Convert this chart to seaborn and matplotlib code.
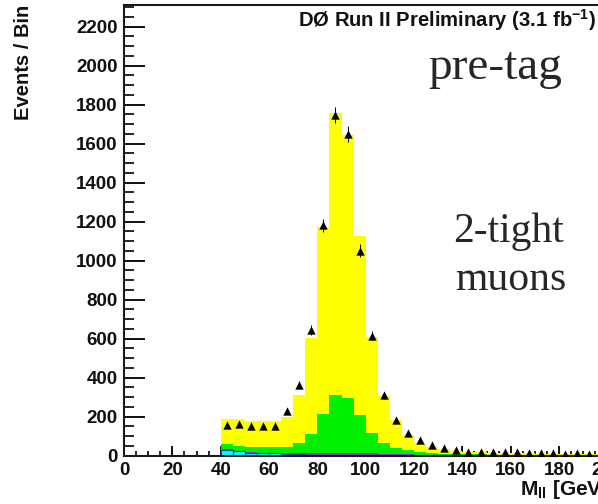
import numpy as np
import pandas as pd
import matplotlib
matplotlib.use("Agg")
import matplotlib.pyplot as plt
import seaborn as sns
from matplotlib.ticker import MultipleLocator

# ---------------- data (5 GeV bins, lower edges 40..195) ----------------
bin_low = list(range(40, 200, 5))
data_counts = [156, 160, 153, 153, 153, 230, 362, 644, 1180, 1745,
               1650, 1050, 615, 308, 182, 117, 78, 54, 37, 30,
               20, 20, 20, 18, 16, 12, 12, 12, 10, 12, 10, 10]
z_light = [126, 134, 137, 137, 136, 154, 245, 489, 958, 1448,
           1348, 917, 493, 242, 140, 78, 47, 33, 23, 18,
           14, 11, 10, 9, 7, 7, 6, 5, 5, 4, 4, 3]
z_heavy = [27, 26, 24, 27, 28, 33, 52, 101, 200, 296,
           282, 197, 104, 53, 33, 21, 13, 8, 5, 3,
           2, 2, 2, 2, 2, 2, 2, 2, 2, 2, 2, 2]
diboson = [3, 3, 3, 3, 3, 4, 5, 6, 8, 10,
           10, 9, 7, 5, 4, 3, 3, 2, 2, 2,
           2, 2, 2, 2, 1, 1, 1, 1, 1, 1, 1, 1]
multijet = [29, 22, 15, 12, 11, 8, 6, 5, 4, 4,
            4, 4, 4, 4, 3, 3, 2, 2, 2, 2,
            2, 2, 1, 1, 1, 1, 1, 1, 1, 1, 1, 1]

process_names = ["Z+lf", "Z+hf", "Diboson", "Multijet"]
process_colors = ["#FFFF00", "#00EE00", "#9A32E0", "#00FFFF"]

edges = list(range(40, 205, 5))
centers = np.array(bin_low) + 2.5

df = pd.concat([
    pd.DataFrame({"mll": centers, "events": vals, "process": name})
    for name, vals in zip(process_names, [z_light, z_heavy, diboson, multijet])
], ignore_index=True)

# ---------------- style ----------------
sns.set_style("ticks")
plt.rcParams["font.family"] = ["Liberation Sans", "DejaVu Sans"]
plt.rcParams["font.weight"] = "bold"
plt.rcParams["mathtext.fontset"] = "custom"
plt.rcParams["mathtext.rm"] = "Liberation Sans:bold"
plt.rcParams["mathtext.bf"] = "Liberation Sans:bold"

W, H = 598, 504
fig = plt.figure(figsize=(W / 100, H / 100), dpi=100)

x0_px, y0_px, top_px = 124, 455.5, 5
xmax = 250.0
px_per_unit = 2.417
ax = fig.add_axes([x0_px / W, (H - y0_px) / H,
                   xmax * px_per_unit / W, (y0_px - top_px) / H])

sns.histplot(data=df, x="mll", weights="events", hue="process",
             hue_order=process_names, palette=dict(zip(process_names, process_colors)),
             multiple="stack", bins=edges, element="bars", linewidth=0,
             alpha=1, legend=False, ax=ax)
# blue outline of bottom (multijet) component
sns.histplot(x=centers, weights=multijet, bins=edges, element="bars", fill=False,
             color="#2a3fd0", linewidth=0.8, ax=ax)

ax.errorbar(centers, data_counts, yerr=np.sqrt(np.array(data_counts)), fmt="none",
            ecolor="k", elinewidth=0.7, capsize=0, zorder=5)
sns.scatterplot(x=centers, y=data_counts, marker="^", color="k", s=36,
                linewidth=0, zorder=6, ax=ax, legend=False)

ax.set_xlim(0, xmax)
ax.set_ylim(0, (y0_px - top_px) / 0.195)
ax.set_xlabel("")
ax.set_ylabel("")

ax.xaxis.set_major_locator(MultipleLocator(20))
ax.xaxis.set_minor_locator(MultipleLocator(5))
ax.yaxis.set_major_locator(MultipleLocator(200))
ax.yaxis.set_minor_locator(MultipleLocator(50))

ax.tick_params(axis="y", which="major", direction="in", length=15, width=1.4,
               pad=4.5, labelsize=13.5, colors="#111111")
ax.tick_params(axis="y", which="minor", direction="in", length=7, width=1.4)
ax.tick_params(axis="x", which="major", direction="in", length=7.5, width=1.4,
               pad=4.5, labelsize=13.5, colors="#111111")
ax.tick_params(axis="x", which="minor", direction="in", length=3.8, width=1.4)
for lab in ax.get_xticklabels() + ax.get_yticklabels():
    lab.set_fontweight("bold")

for side in ["left", "bottom", "top", "right"]:
    ax.spines[side].set_linewidth(1.5)
    ax.spines[side].set_color("#1a1a1a")

# ---------------- texts ----------------
fig.text(298 / W, 1 - 27 / H, r"DØ Run II Preliminary (3.1 fb$^{\mathbf{-1}}$)",
         fontsize=14.6, fontweight="bold", ha="left", va="baseline", color="#111111")
fig.text(428 / W, 1 - 79 / H, "pre-tag", fontsize=34, family="Liberation Serif",
         fontweight="normal", ha="left", va="baseline")
fig.text(453 / W, 1 - 241.7 / H, "2-tight", fontsize=30, family="Liberation Serif",
         fontweight="normal", ha="left", va="baseline")
fig.text(455 / W, 1 - 290.5 / H, "muons", fontsize=30, family="Liberation Serif",
         fontweight="normal", ha="left", va="baseline")
fig.text(23.5 / W, 1 - 5 / H, "Events / Bin", rotation=90, fontsize=14.5,
         fontweight="bold", ha="center", va="top", color="#111111")
fig.text(520 / W, 1 - 495 / H, r"M$_{\mathbf{ll}}$ [GeV]", fontsize=15,
         fontweight="bold", ha="left", va="baseline", color="#111111")

fig.savefig("out.png", dpi=100)
